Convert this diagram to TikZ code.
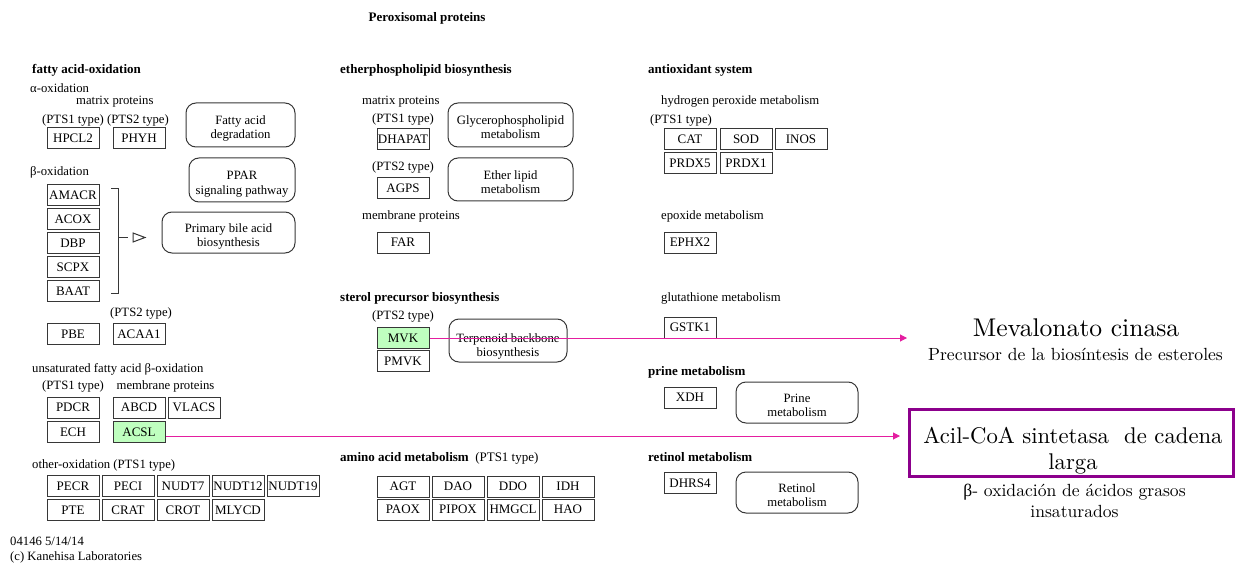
\documentclass[tikz,border=0pt]{standalone}
\usepackage{fontspec}
\newfontfamily\kegg{Liberation Serif}
\newfontfamily\annot{lmroman10-regular.otf}
\usetikzlibrary{arrows.meta}
\definecolor{kline}{RGB}{55,55,55}
\definecolor{kgreen}{RGB}{191,255,191}
\definecolor{pinkc}{RGB}{228,30,160}
\definecolor{purp}{RGB}{140,0,140}
\tikzset{
  gene/.style={draw=kline, line width=1pt, minimum width=52pt, minimum height=21pt, inner sep=0pt, font=\kegg\fontsize{13}{13}\selectfont},
  hit/.style={gene, fill=kgreen},
  pathbox/.style={draw=kline, rounded corners=10pt, line width=1pt, align=center, inner sep=0pt, text height=31pt, text depth=3pt, font=\kegg\fontsize{12.7}{14}\selectfont},
  lbl/.style={anchor=west, inner sep=0pt, yshift=-1.5pt, font=\kegg\fontsize{12.7}{14}\selectfont},
  hdr/.style={anchor=west, inner sep=0pt, yshift=-1pt, font=\kegg\bfseries\fontsize{13}{14}\selectfont},
  link/.style={draw=pinkc, line width=1pt, -{Triangle[length=7pt,width=7pt]}},
  bigtxt/.style={align=center, inner sep=0pt}
}
\begin{document}
\begin{tikzpicture}[x=1pt,y=-1pt]
\useasboundingbox (0,0) rectangle (1244,564);
% title
\node[hdr, anchor=center] (title) at (427,17) {Peroxisomal proteins};
% ---------- left column
\node[hdr] (h1) at (32,69) {fatty acid-oxidation};
\node[lbl] (l1) at (30,87) {α-oxidation};
\node[lbl] (l2) at (76,100) {matrix proteins};
\node[lbl] (l3) at (42,119) {(PTS1 type) (PTS2 type)};
\node[gene] (HPCL2) at (73,138.5) {HPCL2};
\node[gene] (PHYH) at (139,138.5) {PHYH};
\node[pathbox, minimum width=109pt, minimum height=44pt] (fad) at (240.5,125) {Fatty acid\\degradation};
\node[lbl] (l4) at (30,171) {β-oxidation};
\node[pathbox, minimum width=106pt, minimum height=44pt] (ppar) at (242,180) {PPAR\\signaling pathway};
\node[gene] (AMACR) at (73,195) {AMACR};
\node[gene] (ACOX) at (73,219) {ACOX};
\node[gene] (DBP) at (73,243) {DBP};
\node[gene] (SCPX) at (73,267) {SCPX};
\node[gene] (BAAT) at (73,291) {BAAT};
\node[pathbox, minimum width=133pt, minimum height=41pt] (pba) at (228.5,232.5) {Primary bile acid\\biosynthesis};
% bracket
\draw[kline, line width=1pt] (111,189) -- (118,189) -- (118,293) -- (111,293);
\draw[kline, line width=1pt] (118,237.5) -- (128,237.5);
\draw[kline, line width=1pt] (133,233) -- (145,237.5) -- (133,242) -- cycle;
\node[lbl] (l5) at (110,312) {(PTS2 type)};
\node[gene] (PBE) at (73,334) {PBE};
\node[gene] (ACAA1) at (139,334) {ACAA1};
\node[lbl] (l6) at (32,368) {unsaturated fatty acid β-oxidation};
\node[lbl] (l7) at (42,385) {(PTS1 type)\quad membrane proteins};
\node[gene] (PDCR) at (73,407.5) {PDCR};
\node[gene] (ABCD) at (139,407.5) {ABCD};
\node[gene] (VLACS) at (194,407.5) {VLACS};
\node[gene] (ECH) at (73,432) {ECH};
\node[hit] (ACSL) at (139,432) {ACSL};
\node[lbl] (l8) at (32,464) {other-oxidation (PTS1 type)};
\node[gene] (PECR) at (73,486) {PECR};
\node[gene] (PECI) at (128,486) {PECI};
\node[gene] (NUDT7) at (183,486) {NUDT7};
\node[gene] (NUDT12) at (238,486) {NUDT12};
\node[gene] (NUDT19) at (293,486) {NUDT19};
\node[gene] (PTE) at (73,510) {PTE};
\node[gene] (CRAT) at (128,510) {CRAT};
\node[gene] (CROT) at (183,510) {CROT};
\node[gene] (MLYCD) at (238,510) {MLYCD};
\node[lbl] (f1) at (10,540) {04146 5/14/14};
\node[lbl] (f2) at (10,556) {(c) Kanehisa Laboratories};
% ---------- middle column
\node[hdr] (h2) at (340,69) {etherphospholipid biosynthesis};
\node[lbl] (m1) at (362,100) {matrix proteins};
\node[lbl] (m2) at (372,118) {(PTS1 type)};
\node[gene] (DHAPAT) at (403,139) {DHAPAT};
\node[pathbox, minimum width=125pt, minimum height=44pt] (glp) at (510.5,125) {Glycerophospholipid\\metabolism};
\node[lbl] (m3) at (372,166) {(PTS2 type)};
\node[gene] (AGPS) at (403,188.5) {AGPS};
\node[pathbox, minimum width=125pt, minimum height=43pt] (elm) at (510.5,179.5) {Ether lipid\\metabolism};
\node[lbl] (m4) at (362,215) {membrane proteins};
\node[gene] (FAR) at (403,242.5) {FAR};
\node[hdr] (h3) at (340,297) {sterol precursor biosynthesis};
\node[lbl] (m5) at (372,315) {(PTS2 type)};
\node[hit] (MVK) at (403,338) {MVK};
\node[gene] (PMVK) at (403,361) {PMVK};
\node[pathbox, minimum width=118pt, minimum height=43pt, text height=34pt] (tbb) at (508,340.5) {Terpenoid backbone\\biosynthesis};
\node[hdr] (h4) at (340,457) {amino acid metabolism\ \ {\mdseries (PTS1 type)}};
\node[gene] (AGT) at (403,486.5) {AGT};
\node[gene] (DAO) at (458,486.5) {DAO};
\node[gene] (DDO) at (513,486.5) {DDO};
\node[gene] (IDH) at (568,486.5) {IDH};
\node[gene] (PAOX) at (403,509.5) {PAOX};
\node[gene] (PIPOX) at (458,509.5) {PIPOX};
\node[gene] (HMGCL) at (513,509.5) {HMGCL};
\node[gene] (HAO) at (568,509.5) {HAO};
% ---------- right column
\node[hdr] (h5) at (648,69) {antioxidant system};
\node[lbl] (r1) at (661,100) {hydrogen peroxide metabolism};
\node[lbl] (r2) at (650,119) {(PTS1 type)};
\node[gene] (CAT) at (690,139) {CAT};
\node[gene] (SOD) at (746,139) {SOD};
\node[gene] (INOS) at (801,139) {INOS};
\node[gene] (PRDX5) at (690,163.5) {PRDX5};
\node[gene] (PRDX1) at (746,163.5) {PRDX1};
\node[lbl] (r3) at (661,215) {epoxide metabolism};
\node[gene] (EPHX2) at (690,242.5) {EPHX2};
\node[lbl] (r4) at (661,297) {glutathione metabolism};
\node[gene] (GSTK1) at (690,327.5) {GSTK1};
\node[hdr] (h6) at (648,371) {prine metabolism};
\node[gene] (XDH) at (690,397.5) {XDH};
\node[pathbox, minimum width=122pt, minimum height=41pt] (prm) at (797,402.5) {Prine\\metabolism};
\node[hdr] (h7) at (648,456) {retinol metabolism};
\node[gene] (DHRS4) at (690,483) {DHRS4};
\node[pathbox, minimum width=122pt, minimum height=41pt] (rtm) at (797,492.5) {Retinol\\metabolism};
% ---------- annotations
\node[bigtxt, font=\annot\fontsize{25.6}{28}\selectfont] (mev) at (1076,328) {Mevalonato cinasa};
\node[bigtxt, font=\annot\fontsize{17.6}{21}\selectfont] (mevd) at (1075.5,354) {Precursor de la biosíntesis de esteroles};
\node[draw=purp, line width=3pt, minimum width=324pt, minimum height=67pt, inner sep=0pt] (acbox) at (1071,442.5) {};
\node[bigtxt, font=\annot\fontsize{22.7}{26}\selectfont] (acil) at (1073,451) {Acil-CoA sintetasa\ \ de cadena\\larga};
\node[bigtxt, font=\annot\fontsize{17.6}{21}\selectfont] (acild) at (1074.5,501) {{\kegg β}- oxidación de ácidos grasos\\insaturados};
% ---------- links
\coordinate (mvkend) at (907,338);
\coordinate (acslend) at (900,436);
\draw[link] (MVK.east) -- (MVK.east -| mvkend);
\draw[link] ([yshift=-4pt]ACSL.east) -- (acslend);
\end{tikzpicture}
\end{document}
